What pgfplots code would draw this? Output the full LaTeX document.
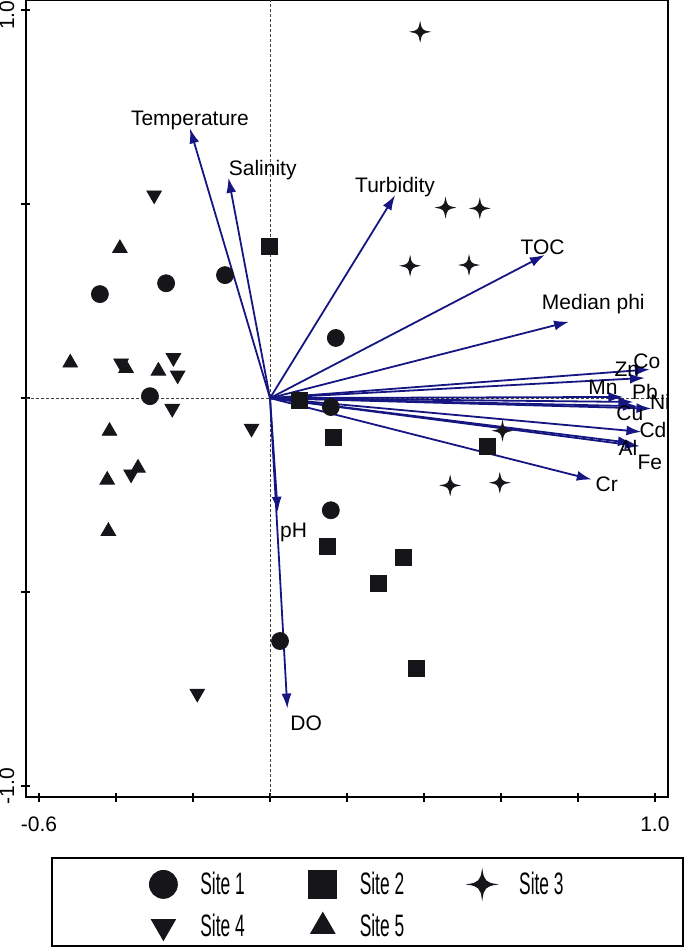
\documentclass[border=0pt]{standalone}
\usepackage{fontspec}
\setmainfont{Liberation Sans}
\newfontfamily\legendfamily[FakeStretch=0.56]{Liberation Sans}
\usepackage{pgfplots}
\pgfplotsset{compat=1.18}
\usetikzlibrary{arrows.meta}

\definecolor{vecblue}{RGB}{22,22,130}
\definecolor{mk}{RGB}{22,22,26}

% four-pointed star mark (site 3)
\pgfdeclareplotmark{star4}{%
  \pgfpathmoveto{\pgfpoint{0pt}{\pgfplotmarksize}}%
  \pgfpathcurveto{\pgfpoint{0.08\pgfplotmarksize}{0.3\pgfplotmarksize}}{\pgfpoint{0.3\pgfplotmarksize}{0.08\pgfplotmarksize}}{\pgfpoint{\pgfplotmarksize}{0pt}}%
  \pgfpathcurveto{\pgfpoint{0.3\pgfplotmarksize}{-0.08\pgfplotmarksize}}{\pgfpoint{0.08\pgfplotmarksize}{-0.3\pgfplotmarksize}}{\pgfpoint{0pt}{-\pgfplotmarksize}}%
  \pgfpathcurveto{\pgfpoint{-0.08\pgfplotmarksize}{-0.3\pgfplotmarksize}}{\pgfpoint{-0.3\pgfplotmarksize}{-0.08\pgfplotmarksize}}{\pgfpoint{-\pgfplotmarksize}{0pt}}%
  \pgfpathcurveto{\pgfpoint{-0.3\pgfplotmarksize}{0.08\pgfplotmarksize}}{\pgfpoint{-0.08\pgfplotmarksize}{0.3\pgfplotmarksize}}{\pgfpoint{0pt}{\pgfplotmarksize}}%
  \pgfpathclose
  \pgfusepathqfillstroke
}

\begin{document}
\begin{tikzpicture}[lab/.style={font=\fontsize{10.5}{12}\selectfont, inner sep=0pt}]
\begin{axis}[
  scale only axis, width=321pt, height=398.5pt,
  xmin=-0.634, xmax=1.034, ymin=-1.028, ymax=1.026,
  xtick={-0.6,-0.4,-0.2,0,0.2,0.4,0.6,0.8,1.0},
  xticklabels={-0.6,,,,,,,,1.0},
  ytick={-1,-0.5,0,0.5,1},
  yticklabels={-1.0,,,,},
  extra y ticks={1},
  extra y tick labels={1.0},
  extra y tick style={yticklabel style={xshift=-2.5pt}},
  tick pos=left, tick align=center, major tick length=4.5pt,
  tick style={black, line width=0.9pt},
  axis line style={line width=1pt},
  /pgf/number format/assume math mode=true,
  ticklabel style={font=\fontsize{10.5}{12}\selectfont},
  yticklabel style={rotate=90, anchor=south},
  xticklabel style={yshift=-4pt},
  legend columns=3,
  legend cell align=left,
  legend style={draw=none, fill=none, at={(axis description cs:0.1916,-0.0916)}, anchor=north west,
    inner sep=0pt, row sep=7pt,
    font=\legendfamily\fontsize{15.5}{17}\selectfont,
    nodes={inner sep=0pt},
    /tikz/every odd column/.append style={column sep=11.5pt},
    /tikz/every even column/.append style={column sep=32pt}},
  legend image code/.code={\draw[#1, mark size=7pt, line width=0.4pt] plot coordinates {(0pt,0pt)};},
]
\coordinate (SW) at (rel axis cs:0,0);
\coordinate (NE) at (rel axis cs:1,1);
\draw[black!75, line width=0.5pt, dash pattern=on 1.5pt off 1pt] (axis cs:0,-1.028) -- (axis cs:0,1.026);
\draw[black!75, line width=0.5pt, dash pattern=on 1.5pt off 1pt] (axis cs:-0.634,0) -- (axis cs:1.034,0);

% environmental vectors (tips)
\addplot[vecblue, line width=0.9pt, -{Latex[length=7.5pt,width=5pt]},
  quiver={u=\thisrow{u}, v=\thisrow{v}}, forget plot] table {
x y u v
0 0 -0.208 0.695
0 0 -0.108 0.568
0 0 0.325 0.523
0 0 0.714 0.369
0 0 0.777 0.197
0 0 0.987 0.074
0 0 0.974 0.052
0 0 0.918 0.003
0 0 0.944 -0.010
0 0 0.991 -0.027
0 0 0.956 -0.021
0 0 0.965 -0.087
0 0 0.943 -0.116
0 0 0.961 -0.124
0 0 0.836 -0.210
0 0 0.020 -0.293
0 0 0.045 -0.800
};

\node[lab] at (axis cs:-0.208,0.716) {Temperature};
\node[lab] at (axis cs:-0.019,0.588) {Salinity};
\node[lab] at (axis cs:0.325,0.543) {Turbidity};
\node[lab] at (axis cs:0.708,0.388) {TOC};
\node[lab] at (axis cs:0.840,0.242) {Median phi};
\node[lab] at (axis cs:0.979,0.095) {Co};
\node[lab] at (axis cs:0.927,0.075) {Zn};
\node[lab] at (axis cs:0.865,0.028) {Mn};
\node[lab] at (axis cs:0.974,0.015) {Pb};
\node[lab] at (axis cs:1.013,-0.010) {Ni};
\node[lab] at (axis cs:0.935,-0.039) {Cu};
\node[lab] at (axis cs:0.995,-0.082) {Cd};
\node[lab] at (axis cs:0.930,-0.129) {Al};
\node[lab] at (axis cs:0.987,-0.165) {Fe};
\node[lab] at (axis cs:0.875,-0.222) {Cr};
\node[lab] at (axis cs:0.061,-0.347) {pH};
\node[lab] at (axis cs:0.094,-0.838) {DO};

% sites
\addplot[only marks, mark=*, mark size=4.25pt, mk, fill=mk] coordinates {
(-0.442,0.268) (-0.270,0.296) (-0.117,0.317) (0.171,0.155)
(-0.312,0.005) (0.158,-0.023) (0.158,-0.289) (0.026,-0.626)};
\addlegendentry{Site 1}
\addplot[only marks, mark=square*, mark size=4pt, mk, fill=mk] coordinates {
(-0.002,0.391) (0.076,-0.007) (0.164,-0.100) (0.149,-0.381)
(0.565,-0.124) (0.346,-0.410) (0.281,-0.478) (0.381,-0.697)};
\addlegendentry{Site 2}
\addplot[only marks, mark=star4, mark size=4.5pt, mk, fill=mk] coordinates {
(0.390,0.944) (0.456,0.491) (0.545,0.489) (0.364,0.341)
(0.517,0.343) (0.604,-0.084) (0.468,-0.225) (0.597,-0.218)};
\addlegendentry{Site 3}
\addplot[only marks, mark=triangle*, mark size=4.2pt, mark options={rotate=180}, mk, fill=mk] coordinates {
(-0.301,0.523) (-0.387,0.090) (-0.251,0.104) (-0.240,0.059)
(-0.254,-0.027) (-0.048,-0.078) (-0.189,-0.761) (-0.361,-0.196)};
\addlegendentry{Site 4}
\addplot[only marks, mark=triangle*, mark size=4.2pt, mk, fill=mk] coordinates {
(-0.390,0.386) (-0.519,0.091) (-0.374,0.077) (-0.290,0.070)
(-0.417,-0.085) (-0.423,-0.211) (-0.420,-0.343) (-0.343,-0.180)};
\addlegendentry{Site 5}
\end{axis}
\draw[line width=1.2pt] ([shift={(13pt,-30.5pt)}]SW) rectangle ([shift={(328.5pt,-74.5pt)}]SW);
\pgfresetboundingbox
\path[use as bounding box] ([shift={(-13pt,-76pt)}]SW) rectangle ([shift={(8.5pt,0pt)}]NE);
\end{tikzpicture}
\end{document}
